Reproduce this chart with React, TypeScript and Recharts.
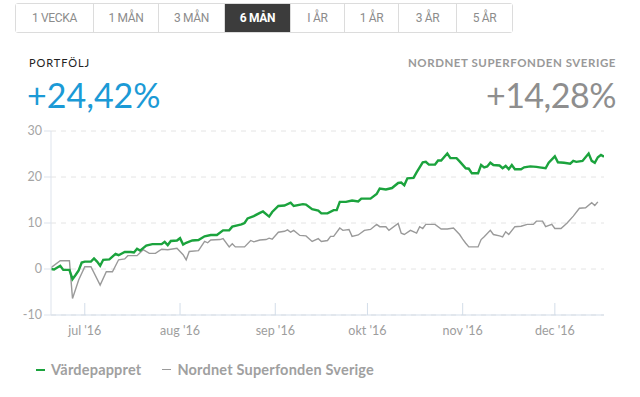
import React from "react"
import { LineChart, Line, XAxis, YAxis, CartesianGrid } from "recharts"

// days counted from 2016-06-20
const portfolioDays = [
  0, 1, 3, 4, 6, 7, 8, 9, 10, 11, 13, 14, 15, 16, 17, 19, 20, 21, 22, 24, 26, 27, 28, 29, 31, 33, 35, 36, 37, 38,
  39, 41, 42, 43, 44, 46, 48, 50, 52, 54, 56, 58, 59, 62, 63, 64, 66, 68, 69, 71, 72, 74, 76, 78, 79, 82, 83, 85,
  87, 88, 90, 92, 93, 94, 96, 98, 100, 101, 104, 106, 107, 109, 111, 113, 114, 115, 116, 118, 119, 121, 122, 123,
  125, 126, 127, 129, 130, 132, 133, 135, 136, 137, 139, 140, 141, 142, 143, 144, 146, 147, 148, 149, 150, 151,
  153, 154, 156, 158, 159, 161, 162, 164, 165, 167, 169, 170, 171, 173, 175, 176, 177, 178, 179, 180,
]
const portfolioValues = [
  0, -0.1, 0.7, -0.2, -0.2, -2.2, -1.3, -0.3, 1.4, 1.6, 1.6, 2.3, 1.6, 0.7, 2.0, 2.1, 2.7, 3.3, 3.0, 3.7, 3.7, 3.6,
  4.4, 4.0, 5.1, 5.4, 5.4, 5.4, 5.9, 5.2, 6.1, 6.2, 6.7, 5.3, 5.7, 6.2, 6.3, 7.1, 7.4, 7.4, 8.4, 8.4, 9.2, 9.7, 10.0,
  11.0, 11.5, 12.2, 12.5, 11.4, 12.4, 13.7, 13.8, 14.4, 13.7, 14.1, 14.0, 13.0, 12.7, 12.1, 12.1, 12.8, 12.8, 14.6,
  14.6, 14.9, 14.7, 15.3, 15.3, 16.3, 17.5, 17.3, 17.6, 18.7, 18.8, 18.2, 19.7, 19.8, 21.0, 23.2, 23.3, 22.7, 22.7,
  23.6, 23.6, 25.1, 24.1, 24.1, 23.4, 21.9, 21.8, 20.8, 20.8, 22.6, 22.1, 22.3, 23.1, 22.6, 22.5, 21.9, 22.4, 21.7,
  22.6, 21.7, 21.7, 22.1, 22.3, 22.2, 22.1, 21.9, 23.1, 24.5, 23.2, 23.1, 22.9, 23.5, 23.3, 23.5, 25.1, 23.5, 23.1,
  24.3, 24.8, 24.4,
]

const fundDays = [
  0, 3, 6, 7, 9, 11, 13, 16, 18, 20, 22, 24, 25, 28, 30, 32, 34, 36, 38, 41, 43, 44, 45, 48, 50, 51, 52, 55, 56, 58,
  59, 60, 63, 65, 66, 68, 70, 71, 72, 74, 76, 77, 78, 79, 81, 83, 85, 87, 88, 90, 91, 92, 94, 95, 97, 98, 100, 102,
  104, 106, 107, 109, 110, 113, 114, 115, 117, 119, 120, 121, 122, 125, 127, 129, 131, 133, 134, 135, 136, 139, 140,
  141, 143, 144, 146, 147, 148, 149, 151, 153, 155, 157, 158, 160, 161, 163, 164, 166, 168, 170, 172, 174, 176, 177,
  178,
]
const fundValues = [
  0.3, 1.8, 1.8, -6.4, -2.4, 0.5, 0.5, -3.5, -0.6, -0.6, 2.0, 2.2, 2.9, 2.9, 4.2, 3.4, 3.4, 4.3, 4.2, 4.5, 3.1, 2.0,
  3.8, 4.0, 6.0, 5.7, 6.3, 6.4, 6.6, 4.8, 5.5, 4.8, 4.8, 6.2, 5.9, 6.3, 6.4, 6.7, 6.5, 8.0, 8.2, 8.5, 8.0, 8.4, 7.3,
  7.2, 6.0, 6.6, 6.0, 6.2, 7.1, 7.1, 8.9, 8.4, 8.6, 7.1, 7.4, 8.4, 8.6, 9.7, 9.2, 9.2, 8.4, 9.9, 7.8, 7.5, 8.4, 7.8,
  9.2, 8.8, 9.7, 9.7, 8.7, 8.7, 8.9, 7.5, 6.5, 5.6, 4.8, 4.8, 6.4, 7.0, 8.4, 7.5, 7.2, 7.0, 8.1, 7.5, 9.2, 9.3, 9.7,
  9.7, 10.4, 10.4, 9.2, 9.7, 8.8, 8.8, 10.0, 11.5, 13.2, 13.3, 14.4, 13.8, 14.6,
]

const monthTicks = [11, 42, 73, 103, 134, 164]
const monthLabels = ["jul '16", "aug '16", "sep '16", "okt '16", "nov '16", "dec '16"]
const yTicks = [-10, 0, 10, 20, 30]

const periods = ["1 VECKA", "1 MÅN", "3 MÅN", "6 MÅN", "I ÅR", "1 ÅR", "3 ÅR", "5 ÅR"]
const periodWidths = [77, 65, 66, 66, 54, 54, 58, 56]
const activePeriod = "6 MÅN"

const portfolioData = portfolioDays.map((d, i) => ({ d, v: portfolioValues[i] }))
const fundData = fundDays.map((d, i) => ({ d, v: fundValues[i] }))

const GREEN = "#1ba33d"
const GRAY = "#9a9a9a"

function MonthTick(props: any) {
  const { x, y, payload } = props
  const idx = monthTicks.indexOf(payload.value)
  return (
    <g>
      <line x1={x} x2={x} y1={y - 12} y2={y} stroke="#d3dde9" strokeWidth={1} />
      <text x={x} y={y + 20} textAnchor="middle" fill="#9d9d9d" fontSize={12.5} fontFamily="Lato, sans-serif">
        {monthLabels[idx]}
      </text>
    </g>
  )
}

export default function App() {
  return (
    <div
      style={{
        position: "absolute",
        left: 0,
        top: 0,
        width: 640,
        height: 397,
        background: "#fff",
        fontFamily: "Lato, sans-serif",
        overflow: "hidden",
      }}
    >
      <div
        style={{
          position: "absolute",
          left: 15,
          top: 3,
          height: 28,
          display: "flex",
          border: "1px solid #dcdcdc",
          borderRadius: 3,
        }}
      >
        {periods.map((p, i) => {
          const active = p === activePeriod
          return (
            <div
              key={i}
              style={{
                width: periodWidths[i],
                height: 28,
                lineHeight: "28px",
                textAlign: "center",
                fontFamily: "Roboto, sans-serif",
                fontSize: 12,
                letterSpacing: -0.3,
                color: active ? "#fff" : "#8c8c8c",
                fontWeight: active ? 700 : 400,
                background: active ? "#3c3c3c" : "#fff",
                borderLeft: i === 0 ? "none" : "1px solid #dcdcdc",
                boxSizing: "border-box",
              }}
            >
              {p}
            </div>
          )
        })}
      </div>

      <div style={{ position: "absolute", left: 29, top: 56, fontSize: 11, color: "#222", letterSpacing: 0.9 }}>
        PORTFÖLJ
      </div>
      <div style={{ position: "absolute", left: 27, top: 75, fontSize: 34, color: "#1b9ad6", lineHeight: "40px" }}>
        +24,42%
      </div>
      <div
        style={{
          position: "absolute",
          right: 24,
          top: 56,
          fontSize: 11.5,
          color: "#999",
          letterSpacing: 0.55,
          fontWeight: 700,
        }}
      >
        NORDNET SUPERFONDEN SVERIGE
      </div>
      <div
        style={{
          position: "absolute",
          right: 24,
          top: 75,
          fontSize: 34,
          color: "#8e8e8e",
          lineHeight: "40px",
          letterSpacing: -0.5,
        }}
      >
        +14,28%
      </div>

      <div style={{ position: "absolute", left: 0, top: 120 }}>
        <LineChart width={640} height={240} margin={{ top: 11, right: 36, bottom: 15, left: 11 }}>
          <CartesianGrid vertical={false} stroke="#e4e4e4" strokeDasharray="5 5" />
          <XAxis
            dataKey="d"
            type="number"
            domain={[0, 180]}
            ticks={monthTicks}
            allowDataOverflow
            axisLine={{ stroke: "#d3dde9" }}
            tickLine={false}
            tickSize={0}
            tickMargin={0}
            height={30}
            tick={<MonthTick />}
          />
          <YAxis
            type="number"
            domain={[-10, 30]}
            ticks={yTicks}
            width={40}
            axisLine={{ stroke: "#dde3ec" }}
            tickLine={{ stroke: "#dde3ec" }}
            tickSize={7}
            tickMargin={2}
            tick={{ fill: "#a5a5a5", fontSize: 12.5, fontFamily: "Lato, sans-serif" }}
          />
          <Line
            data={fundData}
            dataKey="v"
            type="linear"
            stroke={GRAY}
            strokeWidth={1.4}
            dot={false}
            isAnimationActive={false}
          />
          <Line
            data={portfolioData}
            dataKey="v"
            type="linear"
            stroke={GREEN}
            strokeWidth={2.4}
            dot={false}
            isAnimationActive={false}
          />
        </LineChart>
      </div>

      <div
        style={{
          position: "absolute",
          left: 36,
          top: 361,
          display: "flex",
          alignItems: "center",
          fontSize: 14.5,
          fontWeight: 700,
          color: "#a0a0a0",
          letterSpacing: 0.2,
        }}
      >
        <span style={{ display: "inline-block", width: 9, height: 2, background: GREEN, marginRight: 6 }} />
        <span>Värdepappret</span>
        <span style={{ display: "inline-block", width: 9, height: 1.5, background: GRAY, marginLeft: 21, marginRight: 6 }} />
        <span>Nordnet Superfonden Sverige</span>
      </div>
    </div>
  )
}
